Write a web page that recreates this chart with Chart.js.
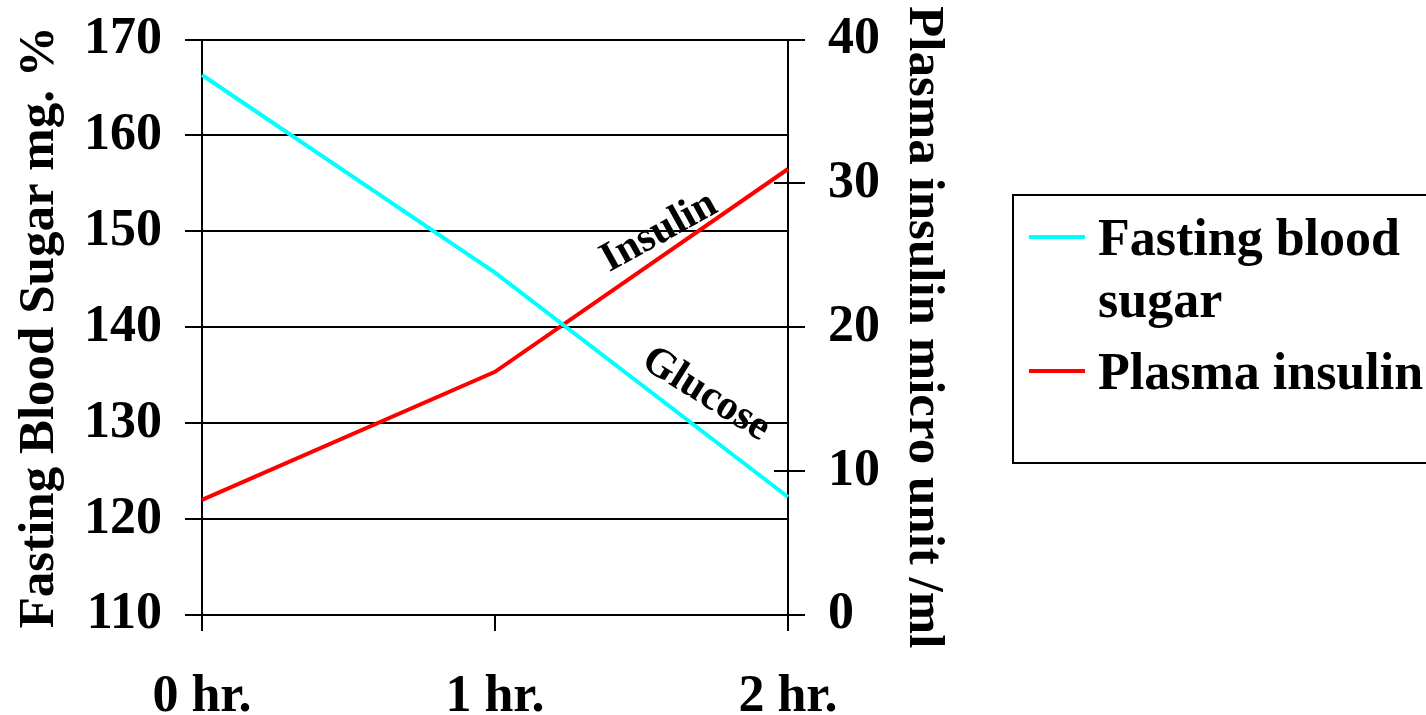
<!DOCTYPE html>
<html>
<head>
<meta charset="utf-8">
<title>Fasting blood sugar and plasma insulin</title>
<script src="https://cdn.jsdelivr.net/npm/chart.js@4.4.1/dist/chart.umd.min.js"></script>
<style>
    html, body { margin: 0; padding: 0; background: #fff; }
    #wrap { width: 1426px; height: 715px; }
</style>
</head>
<body>
<div id="wrap"><canvas id="chart" width="1426" height="715"></canvas></div>
<script>
// Données
const hours = ['0 hr.', '1 hr.', '2 hr.'];
const bloodSugar = [166.3, 145.7, 122.3];   // mg %
const plasmaInsulin = [8.0, 16.9, 31.0];    // micro unit /ml
const sugarTicks = [110, 120, 130, 140, 150, 160, 170];
const insulinTicks = [0, 10, 20, 30, 40];

const FONT = "'Liberation Serif', 'Times New Roman', serif";
const bigFont = { family: FONT, size: 52, weight: 'bold' };
const titleFont = { family: FONT, size: 51, weight: 'bold' };

// Étiquettes inclinées le long des courbes
const curveNotes = [
    { text: 'Insulin', x: 1.56, y: 26.6, axis: 'y1', angle: -29 },
    { text: 'Glucose', x: 1.72, y: 133.0, axis: 'y', angle: 32 }
];

const notesPlugin = {
    id: 'curveNotes',
    afterDatasetsDraw(chart) {
        const ctx = chart.ctx;
        ctx.save();
        ctx.font = 'bold 42px ' + FONT;
        ctx.fillStyle = '#000';
        ctx.textAlign = 'center';
        ctx.textBaseline = 'middle';
        curveNotes.forEach(n => {
            const px = chart.scales.x.getPixelForValue(n.x);
            const py = chart.scales[n.axis].getPixelForValue(n.y);
            ctx.save();
            ctx.translate(px, py);
            ctx.rotate(n.angle * Math.PI / 180);
            ctx.fillText(n.text, 0, 0);
            ctx.restore();
        });
        ctx.restore();
    }
};

// Petits traits vers l'intérieur sur l'axe de droite
const innerTicksPlugin = {
    id: 'innerTicks',
    afterDraw(chart) {
        const s = chart.scales.y1;
        const ctx = chart.ctx;
        ctx.save();
        ctx.strokeStyle = '#000';
        ctx.lineWidth = 2;
        s.ticks.forEach(t => {
            const py = Math.round(s.getPixelForValue(t.value));
            ctx.beginPath();
            ctx.moveTo(s.left - 14, py);
            ctx.lineTo(s.left, py);
            ctx.stroke();
        });
        ctx.restore();
    }
};

// Légende encadrée à droite (coupée par le bord comme l'original)
const boxLegendPlugin = {
    id: 'boxLegend',
    afterDraw(chart) {
        const ctx = chart.ctx;
        const left = chart.scales.y1.right + 55;
        const top = 195;
        const bottom = 463;
        const lineH = 62;
        ctx.save();
        ctx.strokeStyle = '#000';
        ctx.lineWidth = 2;
        ctx.strokeRect(left, top, chart.width + 20 - left, bottom - top);

        ctx.font = 'bold 52px ' + FONT;
        ctx.fillStyle = '#000';
        ctx.textAlign = 'left';
        ctx.textBaseline = 'alphabetic';
        let baseline = top + 60;
        chart.data.datasets.forEach(ds => {
            // retour à la ligne simple
            const words = ds.label.split(' ');
            const lines = [];
            let cur = '';
            words.forEach(w => {
                const t = cur ? cur + ' ' + w : w;
                if (cur && ctx.measureText(t).width > 360) {
                    lines.push(cur);
                    cur = w;
                } else {
                    cur = t;
                }
            });
            lines.push(cur);

            ctx.strokeStyle = ds.borderColor;
            ctx.lineWidth = 4;
            ctx.beginPath();
            ctx.moveTo(left + 16, baseline - 18);
            ctx.lineTo(left + 72, baseline - 18);
            ctx.stroke();

            lines.forEach(l => {
                ctx.fillText(l, left + 85, baseline);
                baseline += lineH;
            });
            baseline += 10;
        });
        ctx.restore();
    }
};

new Chart(document.getElementById('chart'), {
    type: 'line',
    data: {
        labels: hours,
        datasets: [{
            label: 'Fasting blood sugar',
            data: bloodSugar,
            borderColor: '#00ffff',
            backgroundColor: '#00ffff',
            borderWidth: 4,
            pointRadius: 0,
            tension: 0,
            yAxisID: 'y'
        }, {
            label: 'Plasma insulin',
            data: plasmaInsulin,
            borderColor: '#ff0000',
            backgroundColor: '#ff0000',
            borderWidth: 4,
            pointRadius: 0,
            tension: 0,
            yAxisID: 'y1'
        }]
    },
    options: {
        responsive: false,
        animation: false,
        layout: { padding: { top: 39.5, right: 468, bottom: 0, left: 0 } },
        plugins: {
            legend: { display: false },
            tooltip: { enabled: false }
        },
        scales: {
            x: {
                offset: false,
                grid: {
                    offset: false,
                    drawOnChartArea: false,
                    drawTicks: true,
                    tickLength: 16,
                    color: '#000',
                    lineWidth: 2
                },
                border: { display: true, color: '#000', width: 2 },
                ticks: { color: '#000', font: bigFont, padding: 35, maxRotation: 0 },
                afterFit: s => { s.height = 100; }
            },
            y: {
                position: 'left',
                min: 110,
                max: 170,
                afterBuildTicks: s => { s.ticks = sugarTicks.map(v => ({ value: v })); },
                grid: {
                    color: '#000',
                    lineWidth: 2,
                    drawTicks: true,
                    tickLength: 17
                },
                border: { display: true, color: '#000', width: 2 },
                ticks: { color: '#000', font: bigFont, padding: 23 },
                title: {
                    display: true,
                    text: 'Fasting Blood Sugar mg. %',
                    color: '#000',
                    font: titleFont,
                    padding: { top: 9, bottom: 0 }
                },
                afterFit: s => {
                    s.width = 202;
                    s.paddingTop = 0;
                    s.paddingBottom = 0;
                }
            },
            y1: {
                position: 'right',
                min: 0,
                max: 40,
                afterBuildTicks: s => { s.ticks = insulinTicks.map(v => ({ value: v })); },
                grid: {
                    drawOnChartArea: false,
                    color: '#000',
                    lineWidth: 2,
                    drawTicks: true,
                    tickLength: 17
                },
                border: { display: true, color: '#000', width: 2 },
                ticks: { color: '#000', font: bigFont, padding: 23 },
                title: {
                    display: true,
                    text: 'Plasma insulin micro unit /ml',
                    color: '#000',
                    font: titleFont,
                    padding: { top: 4, bottom: 0 }
                },
                afterFit: s => {
                    s.width = 170;
                    s.paddingTop = 0;
                    s.paddingBottom = 0;
                }
            }
        }
    },
    plugins: [notesPlugin, innerTicksPlugin, boxLegendPlugin]
});
</script>
</body>
</html>
